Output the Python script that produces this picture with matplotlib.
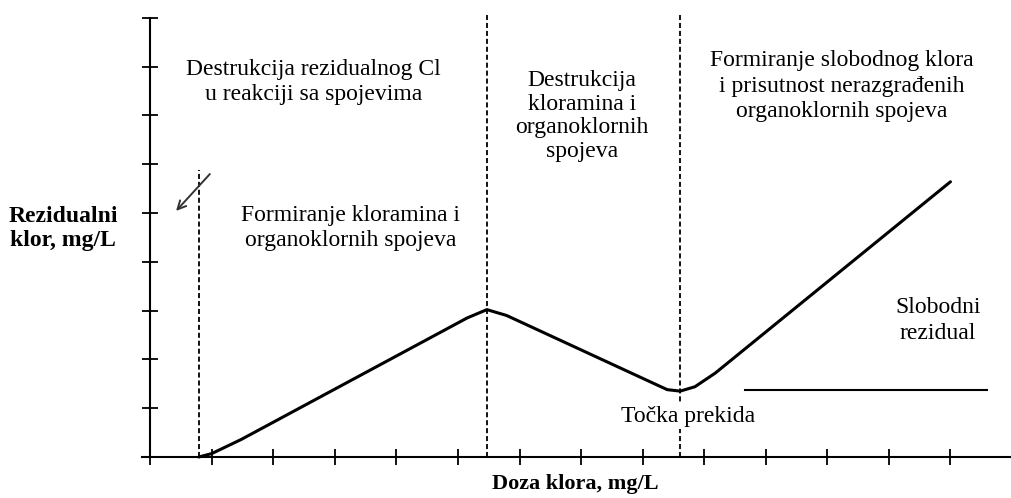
import numpy as np
import matplotlib
matplotlib.use('Agg')
import matplotlib.pyplot as plt

# ========================
# Breakpoint chlorination curve
# ========================

# curve (dose, residual)
doza = [0.79, 1.0, 1.48, 5.15, 5.47, 5.79, 8.21, 8.4, 8.61, 8.85, 9.18, 13.0]
rezidual = [0.0, 0.07, 0.36, 2.85, 3.02, 2.9, 1.49, 1.38, 1.35, 1.44, 1.72, 5.64]

# zone borders (dashed lines): x, top
granice_x = [0.79, 5.47, 8.61]
granice_top = [5.88, 9.1, 9.05]

# free residual level line
slobodni_x = [9.66, 13.6]
slobodni_y = [1.37, 1.37]

x_ticks = list(range(0, 15))
y_ticks = list(range(0, 10))

plt.rcParams['font.family'] = ['Liberation Serif', 'DejaVu Serif']

fig = plt.figure(figsize=(10.12, 4.98), dpi=100)
ax = fig.add_axes([0, 0, 1, 1])

# pixel -> data: x = (px - 151) / 61.9, y = (457 - py) / 48.8
ax.set_xlim(-151 / 61.9, (1012 - 151) / 61.9)
ax.set_ylim(-(498 - 457) / 48.8, 457 / 48.8)

for s in ['top', 'right']:
    ax.spines[s].set_visible(False)
ax.spines['left'].set_position(('data', 0))
ax.spines['bottom'].set_position(('data', 0))
ax.spines['left'].set_bounds(0, 9.0)
ax.spines['bottom'].set_bounds(-0.13, 14)
ax.spines['left'].set_linewidth(1.5)
ax.spines['bottom'].set_linewidth(1.5)
ax.set_xticks(x_ticks)
ax.set_yticks(y_ticks)
ax.tick_params(direction='inout', length=12, width=1.3, labelbottom=False, labelleft=False)

# curve
ax.plot(doza, rezidual, color='black', lw=2.2, solid_capstyle='round')

# dashed zone borders
for gx, gt in zip(granice_x, granice_top):
    ax.plot([gx, gx], [0, gt], color='black', lw=1.3, ls=(0, (2.8, 1.6)))

ax.plot(slobodni_x, slobodni_y, color='black', lw=1.5)

# arrow near the y axis
ax.annotate('', xy=(0.39, 5.0), xytext=(1.0, 5.84),
            arrowprops=dict(arrowstyle='->', color='#333333', lw=1.4, mutation_scale=15))

fs = 17
ax.text(2.65, 7.68, 'Destrukcija rezidualnog Cl\nu reakciji sa spojevima',
        ha='center', va='center', fontsize=fs, linespacing=1.25)
ax.text(7.01, 6.99, 'Destrukcija\nkloramina i\norganoklornih\nspojeva',
        ha='center', va='center', fontsize=fs, linespacing=1.17)
ax.text(11.24, 7.6, 'Formiranje slobodnog klora\ni prisutnost nerazgrađenih\norganoklornih spojeva',
        ha='center', va='center', fontsize=fs, linespacing=1.27)
ax.text(3.26, 4.69, 'Formiranje kloramina i\norganoklornih spojeva',
        ha='center', va='center', fontsize=fs, linespacing=1.22)
ax.text(12.8, 2.8, 'Slobodni\nrezidual',
        ha='center', va='center', fontsize=fs, linespacing=1.3)
ax.text(8.74, 0.84, 'Točka prekida', ha='center', va='center', fontsize=fs,
        bbox=dict(facecolor='white', edgecolor='none', pad=2))

ax.text(-1.41, 4.69, 'Rezidualni\nklor, mg/L', ha='center', va='center',
        fontsize=17, fontweight='bold', linespacing=1.2)
ax.text(6.9, -0.55, 'Doza klora, mg/L', ha='center', va='center',
        fontsize=16, fontweight='bold')

fig.savefig('out.png', dpi=100)
